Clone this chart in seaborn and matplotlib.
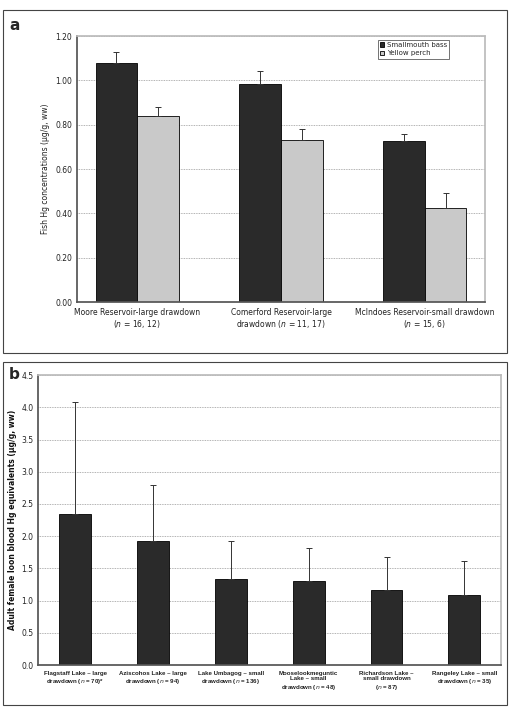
import pandas as pd
import matplotlib
matplotlib.use("Agg")
import matplotlib.pyplot as plt
from matplotlib.patches import Rectangle
import seaborn as sns

# panel a data
sites_a = ["Moore Reservoir-large drawdown\n($\\it{n}$ = 16, 12)",
           "Comerford Reservoir-large\ndrawdown ($\\it{n}$ = 11, 17)",
           "McIndoes Reservoir-small drawdown\n($\\it{n}$ = 15, 6)"]
species = ["Smallmouth bass", "Yellow perch"]
bass_mean = [1.08, 0.985, 0.725]
bass_err = [0.05, 0.06, 0.035]
perch_mean = [0.84, 0.73, 0.425]
perch_err = [0.04, 0.05, 0.065]

# panel b data
lakes_b = ["Flagstaff Lake \u2013 large\ndrawdown ($\\it{n}$ = 70)*",
           "Aziscohos Lake \u2013 large\ndrawdown ($\\it{n}$ = 94)",
           "Lake Umbagog \u2013 small\ndrawdown ($\\it{n}$ = 136)",
           "Mooselookmeguntic\nLake \u2013 small\ndrawdown ($\\it{n}$ = 48)",
           "Richardson Lake \u2013\nsmall drawdown\n($\\it{n}$ = 87)",
           "Rangeley Lake \u2013 small\ndrawdown ($\\it{n}$ = 35)"]
loon_mean = [2.34, 1.93, 1.33, 1.30, 1.16, 1.09]
loon_err = [1.74, 0.87, 0.59, 0.52, 0.52, 0.52]

sns.set_theme(style="white")
plt.rcParams['font.family'] = ['DejaVu Sans']

dark = "#2a2a2a"
light = "#c9c9c9"

fig = plt.figure(figsize=(5.1, 7.09), dpi=100)

# panel frames
for y0, h in [(0.502, 0.484), (0.005, 0.484)]:
    fig.add_artist(Rectangle((0.006, y0), 0.988, h, transform=fig.transFigure,
                             fill=False, edgecolor="#444444", lw=0.8))

# ---- panel a ----
df_a = pd.DataFrame({
    "site": sites_a * 2,
    "species": [species[0]] * 3 + [species[1]] * 3,
    "value": bass_mean + perch_mean,
    "err": bass_err + perch_err,
})
ax1 = fig.add_axes([0.151, 0.574, 0.80, 0.375])
sns.barplot(data=df_a, x="site", y="value", hue="species", palette=[dark, light],
            width=0.58, edgecolor="black", linewidth=0.6, errorbar=None, ax=ax1)
n = len(sites_a)
for i, p in enumerate(ax1.patches[:2 * n]):
    x = p.get_x() + p.get_width() / 2
    ax1.errorbar(x, p.get_height(), yerr=[[0], [df_a["err"][i]]], fmt="none",
                 ecolor="#333333", elinewidth=0.7, capsize=2, capthick=0.7)
ax1.set_ylim(0, 1.2)
ax1.set_yticks([0, 0.2, 0.4, 0.6, 0.8, 1.0, 1.2])
ax1.set_yticklabels([f"{v:.2f}" for v in ax1.get_yticks()])
ax1.set_xlabel("")
ax1.set_ylabel("Fish Hg concentrations (\u00b5g/g, ww)", fontsize=5.5, color="#222222")
ax1.yaxis.grid(True, ls=(0, (1, 1)), color="#999999", lw=0.6)
ax1.set_axisbelow(True)
for s in ["top", "right"]:
    ax1.spines[s].set_color("#bbbbbb")
    ax1.spines[s].set_linestyle((0, (1, 1)))
for s in ["left", "bottom"]:
    ax1.spines[s].set_color("#555555")
ax1.tick_params(axis="both", labelsize=5.5, colors="#222222", length=2, pad=1.5)
ax1.tick_params(axis="x", length=0, pad=4)
leg = ax1.legend(loc="upper right", bbox_to_anchor=(0.92, 1.0), fontsize=5,
                 frameon=True, fancybox=False, edgecolor="#333333",
                 handlelength=0.7, handleheight=0.7, handletextpad=0.3,
                 borderpad=0.3, labelspacing=0.4)
leg.get_frame().set_linewidth(0.6)
fig.text(0.018, 0.958, "a", fontsize=11, fontweight="bold")

# ---- panel b ----
df_b = pd.DataFrame({"lake": lakes_b, "value": loon_mean, "err": loon_err})
ax2 = fig.add_axes([0.075, 0.062, 0.908, 0.409])
sns.barplot(data=df_b, x="lake", y="value", color=dark, width=0.41,
            edgecolor="black", linewidth=0.6, errorbar=None, ax=ax2)
for i, p in enumerate(ax2.patches[:len(lakes_b)]):
    x = p.get_x() + p.get_width() / 2
    ax2.errorbar(x, p.get_height(), yerr=[[0], [df_b["err"][i]]], fmt="none",
                 ecolor="#333333", elinewidth=0.7, capsize=2, capthick=0.7)
ax2.set_ylim(0, 4.5)
ax2.set_yticks([0, 0.5, 1.0, 1.5, 2.0, 2.5, 3.0, 3.5, 4.0, 4.5])
ax2.set_yticklabels([f"{v:.1f}" for v in ax2.get_yticks()])
ax2.set_xlabel("")
ax2.set_ylabel("Adult female loon blood Hg equivalents (\u00b5g/g, ww)", fontsize=5.5,
               fontweight="bold", color="#111111", labelpad=3)
ax2.yaxis.grid(True, ls=(0, (1, 1)), color="#999999", lw=0.6)
ax2.set_axisbelow(True)
for s in ["top", "right"]:
    ax2.spines[s].set_color("#bbbbbb")
    ax2.spines[s].set_linestyle((0, (1, 1)))
for s in ["left", "bottom"]:
    ax2.spines[s].set_color("#555555")
ax2.tick_params(axis="both", labelsize=5.5, colors="#222222", length=2, pad=1.5)
ax2.tick_params(axis="x", length=0, pad=4, labelsize=4.4)
for t in ax2.get_xticklabels():
    t.set_fontweight("bold")
    t.set_family(["Liberation Sans Narrow", "Liberation Sans", "DejaVu Sans"])
fig.text(0.018, 0.465, "b", fontsize=11, fontweight="bold")

fig.savefig("out.png", dpi=100)
